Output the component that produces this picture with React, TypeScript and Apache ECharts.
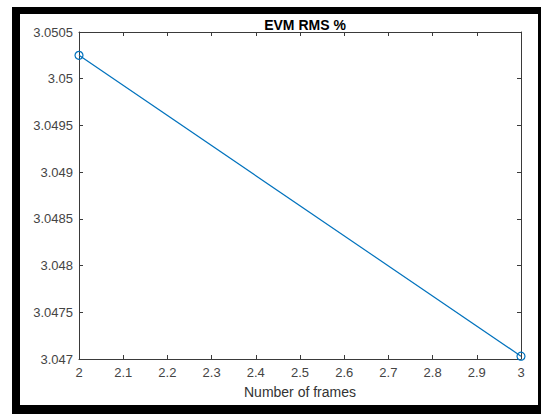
import React, { useEffect, useRef } from "react";
import * as echarts from "echarts";

// Measured EVM (RMS, %) against the number of frames
const frames = [2, 3];
const evmRms = [3.05025, 3.04703];

// Axis tick labels
const xTickLabels = ["2", "2.1", "2.2", "2.3", "2.4", "2.5", "2.6", "2.7", "2.8", "2.9", "3"];
const yTickLabels = ["3.047", "3.0475", "3.048", "3.0485", "3.049", "3.0495", "3.05", "3.0505"];

const FONT = "'Liberation Sans', Arial, Helvetica, sans-serif";
const AXIS_COLOR = "#3a3a3a";
const LINE_COLOR = "#0072BD";

export default function App() {
  const ref = useRef<HTMLDivElement>(null);

  useEffect(() => {
    if (!ref.current) return;
    const chart = echarts.init(ref.current, null, { renderer: "svg" });

    const xBase = {
      type: "value" as const,
      min: 2,
      max: 3,
      interval: 0.1,
      axisLine: { show: true, lineStyle: { color: AXIS_COLOR, width: 1 } },
      axisTick: { show: true, inside: true, length: 4, lineStyle: { color: AXIS_COLOR } },
      splitLine: { show: false },
    };
    const yBase = {
      type: "value" as const,
      min: 3.047,
      max: 3.0505,
      interval: 0.0005,
      axisLine: { show: true, lineStyle: { color: AXIS_COLOR, width: 1 } },
      axisTick: { show: true, inside: true, length: 4, lineStyle: { color: AXIS_COLOR } },
      splitLine: { show: false },
    };

    chart.setOption({
      animation: false,
      title: {
        text: "EVM RMS %",
        left: 300,
        top: 13,
        textAlign: "center",
        textStyle: { fontFamily: FONT, fontSize: 14, fontWeight: "bold", color: "#000" },
      },
      grid: { left: 79, top: 32, right: 20, bottom: 55, containLabel: false },
      xAxis: [
        {
          ...xBase,
          position: "bottom",
          name: "Number of frames",
          nameLocation: "middle",
          nameGap: 26,
          nameTextStyle: { fontFamily: FONT, fontSize: 14, color: "#333" },
          axisLabel: {
            show: true,
            margin: 7,
            fontFamily: FONT,
            fontSize: 13,
            color: "#444",
            formatter: (_v: number, i: number) => xTickLabels[i] ?? "",
          },
        },
        { ...xBase, position: "top", axisLabel: { show: false } },
      ],
      yAxis: [
        {
          ...yBase,
          position: "left",
          axisLabel: {
            show: true,
            margin: 6,
            fontFamily: FONT,
            fontSize: 13,
            color: "#444",
            formatter: (_v: number, i: number) => yTickLabels[i] ?? "",
          },
        },
        { ...yBase, position: "right", axisLabel: { show: false } },
      ],
      series: [
        {
          type: "line",
          xAxisIndex: 0,
          yAxisIndex: 0,
          data: frames.map((f, i) => [f, evmRms[i]]),
          symbol: "circle",
          symbolSize: 8,
          clip: false,
          lineStyle: { color: LINE_COLOR, width: 1.2 },
          itemStyle: { color: "rgba(0,0,0,0)", borderColor: LINE_COLOR, borderWidth: 1.2 },
        },
      ],
    });

    return () => chart.dispose();
  }, []);

  return (
    <div
      style={{
        position: "fixed",
        left: 0,
        top: 0,
        width: 541,
        height: 414,
        overflow: "hidden",
        background: "#fff",
      }}
    >
      <div
        style={{
          position: "absolute",
          left: 12,
          top: 7,
          width: 518,
          height: 391,
          borderStyle: "solid",
          borderColor: "#000",
          borderWidth: "7px 8px 9px 8px",
          background: "#fff",
        }}
      />
      <div ref={ref} style={{ position: "absolute", left: 0, top: 0, width: 541, height: 414 }} />
    </div>
  );
}
